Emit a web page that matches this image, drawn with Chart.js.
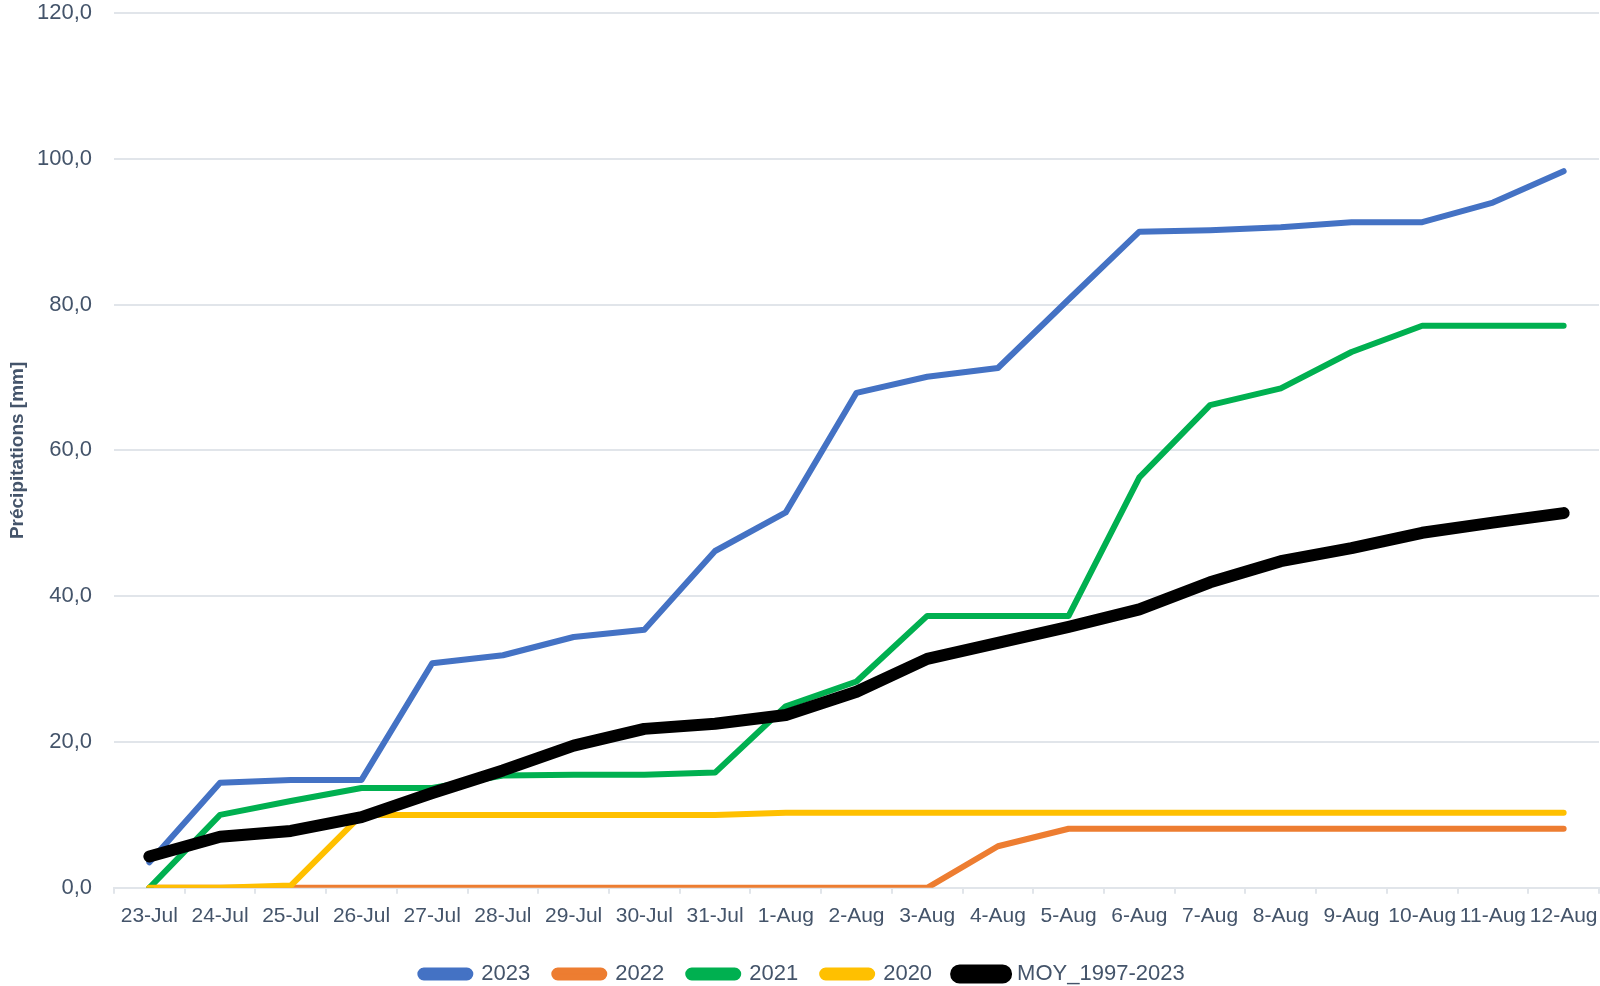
<!DOCTYPE html>
<html>
<head>
<meta charset="utf-8">
<script src="https://cdn.jsdelivr.net/npm/chart.js@4/dist/chart.umd.min.js"></script>
<style>
html,body{margin:0;padding:0;background:#fff;}
#wrap{width:1600px;height:986px;}
</style>
</head>
<body>
<div id="wrap"><canvas id="grafico" width="1600" height="986"></canvas></div>
<script>

const jours = ["23-Jul","24-Jul","25-Jul","26-Jul","27-Jul","28-Jul","29-Jul","30-Jul","31-Jul","1-Aug","2-Aug","3-Aug","4-Aug","5-Aug","6-Aug","7-Aug","8-Aug","9-Aug","10-Aug","11-Aug","12-Aug"]

const pluie2023 = [3.5,14.4,14.8,14.8,30.8,31.9,34.4,35.4,46.2,51.5,67.9,70.1,71.3,80.7,90.0,90.2,90.6,91.3,91.3,94.0,98.3]
const pluie2022 = [0,0,0,0,0,0,0,0,0,0,0,0,5.7,8.1,8.1,8.1,8.1,8.1,8.1,8.1,8.1]
const pluie2021 = [0,10.0,11.9,13.7,13.7,15.4,15.5,15.5,15.8,24.9,28.3,37.3,37.3,37.3,56.3,66.2,68.5,73.5,77.1,77.1,77.1]
const pluie2020 = [0,0,0.3,10.0,10.0,10.0,10.0,10.0,10.0,10.3,10.3,10.3,10.3,10.3,10.3,10.3,10.3,10.3,10.3,10.3,10.3]
const moyenne = [4.3,7.0,7.8,9.7,13.0,16.1,19.5,21.8,22.5,23.7,26.9,31.4,33.6,35.8,38.2,41.9,44.8,46.6,48.7,50.1,51.4]

const texte = "#44546A"
const grille = "#E1E5EA"

function serie(label, data, couleur, epaisseur, ordre){
return {
label: label,
data: data,
borderColor: couleur,
backgroundColor: couleur,
borderWidth: epaisseur,
pointRadius: 0,
tension: 0,
borderCapStyle: "round",
borderJoinStyle: "round",
order: ordre
}
}

new Chart(document.getElementById("grafico"),{
type: "line",
data: {
labels: jours,
datasets: [
serie("2023", pluie2023, "#4472C4", 6, 5),
serie("2022", pluie2022, "#ED7D31", 6, 4),
serie("2021", pluie2021, "#00B050", 6, 3),
serie("2020", pluie2020, "#FFC000", 6, 2),
serie("MOY_1997-2023", moyenne, "#000000", 12, 1)
]
},
options: {
responsive: false,
animation: false,
layout: {autoPadding: false, padding: {top: 13, right: 1, bottom: -9, left: 6}},
plugins: {
tooltip: {enabled: false},
legend: {
position: "bottom",
labels: {
sort: (a,b) => a.datasetIndex - b.datasetIndex,
boxWidth: 50,
boxHeight: 7,
useBorderRadius: true,
borderRadius: 3.5,
padding: 24,
color: texte,
font: {family: "Liberation Sans", size: 22}
}
}
},
scales: {
x: {
offset: true,
afterFit(scale){ scale.paddingLeft = 0; scale.paddingRight = 0 },
grid: {
offset: true,
drawOnChartArea: false,
drawTicks: true,
tickLength: 6,
color: grille,
lineWidth: 2
},
border: {color: grille, width: 2},
ticks: {
autoSkip: false,
maxRotation: 0,
padding: 10,
color: texte,
font: {family: "Liberation Sans", size: 21}
}
},
y: {
min: 0,
max: 120,
afterFit(scale){ scale.width = 108; scale.paddingTop = 0; scale.paddingBottom = 0 },
ticks: {
stepSize: 20,
padding: 22,
color: texte,
font: {family: "Liberation Sans", size: 22},
callback: v => v.toFixed(1).replace(".", ",")
},
grid: {color: grille, lineWidth: 2, drawTicks: false},
border: {display: false},
title: {
display: true,
text: "Précipitations [mm]",
color: texte,
padding: 0,
font: {family: "Liberation Sans", size: 19, weight: "bold"}
}
}
}
}
})

</script>
</body>
</html>
